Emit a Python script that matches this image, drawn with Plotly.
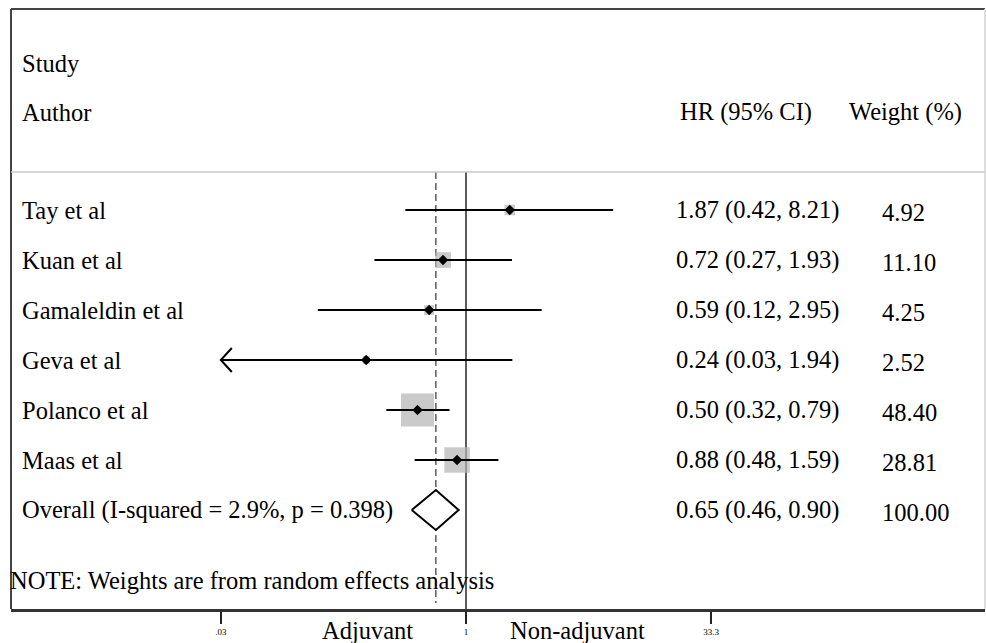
import math
import plotly.graph_objects as go

# ---- data ----
studies = ["Tay et al", "Kuan et al", "Gamaleldin et al", "Geva et al", "Polanco et al", "Maas et al"]
hr = [1.87, 0.72, 0.59, 0.24, 0.50, 0.88]
ci_low = [0.42, 0.27, 0.12, 0.03, 0.32, 0.48]
ci_high = [8.21, 1.93, 2.95, 1.94, 0.79, 1.59]
weights = [4.92, 11.10, 4.25, 2.52, 48.40, 28.81]
hr_text = ["1.87 (0.42, 8.21)", "0.72 (0.27, 1.93)", "0.59 (0.12, 2.95)",
           "0.24 (0.03, 1.94)", "0.50 (0.32, 0.79)", "0.88 (0.48, 1.59)"]
weight_text = ["4.92", "11.10", "4.25", "2.52", "48.40", "28.81"]
overall_label = "Overall (I-squared = 2.9%, p = 0.398)"
overall_hr, overall_low, overall_high = 0.65, 0.46, 0.90
overall_hr_text = "0.65 (0.46, 0.90)"
overall_weight_text = "100.00"
tick_vals = [0.03, 1, 33.3]
tick_text = [".03", "1", "33.3"]
axis_min = 0.03

# ---- layout geometry (body margin removed by post_script) ----
W, H = 986, 643
# pixel positions of plot area: x 11..985, y 9..609
ML = 11
MT = 9
PW = 985 - 11
PH = 609 - 9
MR = W - ML - PW
MB = H - MT - PH
FONT = "Liberation Serif"
BIG = 24.5
TXT_SHIFT = -2  # annotation padding compensation

def px2paper(p):
    return (p + TXT_SHIFT - 11) / PW

# x axis: 1 at pixel 466, 161 px per decade
ppd = 161.0
xa = -(466 - 11) / ppd
xb = xa + PW / ppd

# y axis in row units: row 0 at pixel 210, 50 px per row
row_px0, row_step = 210, 50
ytop = (row_px0 - 9) / row_step
ybot = -(609 - row_px0) / row_step

fig = go.Figure()

ys = [-i for i in range(len(studies))]
y_overall = -len(studies)
y_sep = (row_px0 - 172) / row_step

# reference lines
fig.add_trace(go.Scatter(x=[1, 1], y=[y_sep, ybot], mode="lines",
                         line=dict(color="#333", width=1.6), showlegend=False, hoverinfo="skip"))
fig.add_trace(go.Scatter(x=[overall_hr, overall_hr], y=[y_sep, ybot + 0.12], mode="lines",
                         line=dict(color="#444", width=1.3, dash="7px,4px"), showlegend=False, hoverinfo="skip"))

# weight boxes
sizes = [4.74 * math.sqrt(w) for w in weights]
fig.add_trace(go.Scatter(x=hr, y=ys, mode="markers",
                         marker=dict(symbol="square", size=sizes, color="#b4b4b4", line=dict(width=0)),
                         showlegend=False, hoverinfo="skip"))

# CI lines
for i in range(len(studies)):
    lo = max(ci_low[i], axis_min)
    fig.add_trace(go.Scatter(x=[lo, ci_high[i]], y=[ys[i], ys[i]], mode="lines",
                             line=dict(color="black", width=2), showlegend=False, hoverinfo="skip"))
    if ci_low[i] <= axis_min:
        f = 10 ** (11 / ppd)
        fig.add_trace(go.Scatter(x=[lo * f, lo, lo * f], y=[ys[i] + 0.24, ys[i], ys[i] - 0.24],
                                 mode="lines", line=dict(color="black", width=2),
                                 showlegend=False, hoverinfo="skip"))

# point estimates
fig.add_trace(go.Scatter(x=hr, y=ys, mode="markers",
                         marker=dict(symbol="diamond", size=8, color="black"),
                         showlegend=False, hoverinfo="skip"))

# overall diamond
dh = 0.4
fig.add_trace(go.Scatter(x=[overall_low, overall_hr, overall_high, overall_hr, overall_low],
                         y=[y_overall, y_overall + dh, y_overall, y_overall - dh, y_overall],
                         mode="lines", fill="toself", fillcolor="white",
                         line=dict(color="black", width=2), showlegend=False, hoverinfo="skip"))

ann = []
def txt(x_px, y, s, size=BIG, yref="y", xanchor="left"):
    ann.append(dict(x=px2paper(x_px), xref="paper", y=y, yref=yref, text=s, showarrow=False,
                    xanchor=xanchor, yanchor="middle", font=dict(family=FONT, size=size, color="black")))

txt(22, (row_px0 - 63) / row_step, "Study")
txt(22, (row_px0 - 112) / row_step, "Author")
txt(680, (row_px0 - 112) / row_step, "HR (95% CI)")
txt(849, (row_px0 - 112) / row_step, "Weight (%)")
for i in range(len(studies)):
    txt(22, ys[i], studies[i])
    txt(676, ys[i], hr_text[i])
    txt(882, ys[i] - 0.04, weight_text[i])
txt(22, y_overall, overall_label)
txt(676, y_overall, overall_hr_text)
txt(882, y_overall - 0.04, overall_weight_text)
txt(10, (row_px0 - 580) / row_step, "NOTE: Weights are from random effects analysis")
y_lab = -(630 - 609) / PH
txt(367 + 2, y_lab, "Adjuvant", yref="paper", xanchor="center")
txt(577 + 2, y_lab, "Non-adjuvant", yref="paper", xanchor="center")

shapes = [
    dict(type="line", xref="paper", yref="paper", x0=0, x1=0, y0=0, y1=1.0, line=dict(color="#444", width=2)),
    dict(type="line", xref="paper", yref="paper", x0=0, x1=1, y0=1.0, y1=1.0, line=dict(color="#444", width=2)),
    dict(type="line", xref="paper", yref="paper", x0=1, x1=1, y0=0, y1=1.0, line=dict(color="#dddddd", width=2)),
    dict(type="line", xref="paper", yref="y", x0=0, x1=1, y0=y_sep, y1=y_sep, line=dict(color="#c8c8c8", width=1.5)),
]

fig.update_layout(
    width=W, height=H,
    margin=dict(l=ML, r=MR, t=MT, b=MB, pad=0),
    paper_bgcolor="white", plot_bgcolor="white",
    showlegend=False,
    xaxis=dict(type="log", range=[xa, xb], showgrid=False, zeroline=False,
               showline=True, linecolor="#333", linewidth=2.5,
               tickvals=tick_vals, ticktext=tick_text, ticks="outside", ticklen=12,
               tickwidth=1.5, tickcolor="#222",
               tickfont=dict(family=FONT, size=9, color="black"), fixedrange=True),
    yaxis=dict(range=[ybot, ytop], showgrid=False, zeroline=False, showticklabels=False,
               showline=False, fixedrange=True),
    annotations=ann, shapes=shapes,
)

fig.write_html("out.html", config={"displayModeBar": False},
               post_script="document.body.style.margin='0px';document.body.style.overflow='hidden';")
